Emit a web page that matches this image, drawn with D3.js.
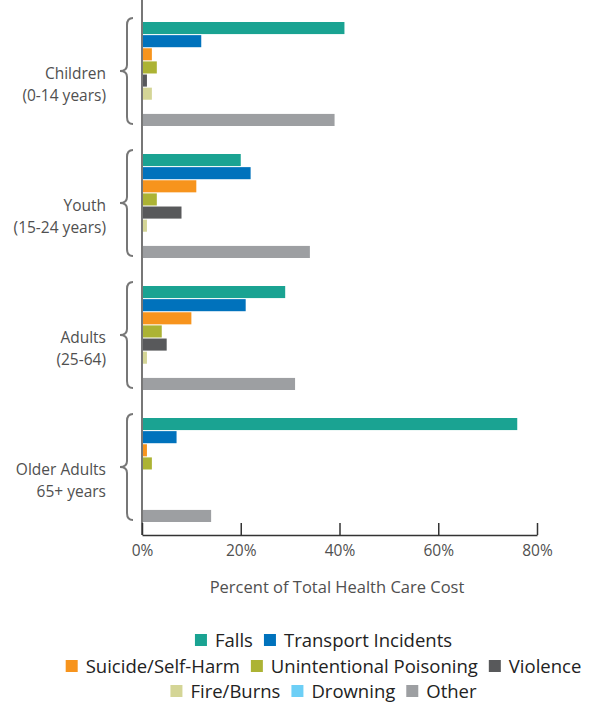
<!DOCTYPE html>
<html><head><meta charset="utf-8">
<script src="https://cdn.jsdelivr.net/npm/d3@7"></script>
<style>body{margin:0;background:#fff}svg{display:block}text{font-family:"Open Sans",sans-serif}</style>
</head><body><svg id="c" width="603" height="704"></svg>
<script>
const groups = ["Children|(0-14 years)", "Youth|(15-24 years)", "Adults|(25-64)", "Older Adults|65+ years"];
const series = ["Falls","Transport Incidents","Suicide/Self-Harm","Unintentional Poisoning","Violence","Fire/Burns","Drowning","Other"];
const colors = ["#1aa392","#0072bc","#f7941d","#acb334","#58595b","#d4d596","#6dcff6","#9d9fa2"];
const falls     = [41, 20, 29, 76];
const transport = [12, 22, 21, 7];
const suicide   = [2, 11, 10, 1];
const poisoning = [3, 3, 4, 2];
const violence  = [1, 8, 5, 0];
const fire      = [2, 1, 1, 0];
const drowning  = [0, 0, 0, 0];
const other     = [39, 34, 31, 14];
const ticks = [0, 20, 40, 60, 80];
const legendRows = [[0,1],[2,3,4],[5,6,7]];

const values = [falls, transport, suicide, poisoning, violence, fire, drowning, other];
const svg = d3.select("#c");
const x0 = 142, x1 = 537, yAxis = 535;
const x = d3.scaleLinear().domain([0, 80]).range([x0, x1]);
const gy = d3.scaleBand().domain(groups).range([8, 536]).padding(0);
const sy = d3.scaleBand().domain(series).range([14, 118]).paddingInner(0.08).paddingOuter(0);

groups.forEach((g, gi) => {
  const gg = svg.append("g").attr("transform", `translate(0,${gy(g)})`);
  gg.selectAll("rect").data(series).join("rect")
    .attr("x", x(0)).attr("y", s => sy(s))
    .attr("width", (s, si) => x(values[si][gi]) - x(0))
    .attr("height", sy.bandwidth())
    .attr("fill", (s, si) => colors[si]);
  const [l1, l2] = g.split("|");
  const t = gg.append("text").attr("text-anchor", "end").attr("fill", "#505050").attr("font-size", 15.5);
  t.append("tspan").attr("x", 106).attr("y", 66 + 5).text(l1);
  t.append("tspan").attr("x", 106).attr("y", 66 + 27).text(l2);
  const top = 10, bot = 116, mid = 63, bx = 133, px = 120, cx = 127;
  gg.append("path")
    .attr("d", `M${bx},${top} Q${cx},${top} ${cx},${top+7} L${cx},${mid-6} Q${cx},${mid} ${px},${mid} Q${cx},${mid} ${cx},${mid+6} L${cx},${bot-7} Q${cx},${bot} ${bx},${bot}`)
    .attr("fill", "none").attr("stroke", "#777").attr("stroke-width", 2);
});

svg.append("line").attr("x1", x0).attr("x2", x0).attr("y1", 0).attr("y2", yAxis)
  .attr("stroke", "#777").attr("stroke-width", 2);

const ax = svg.append("g").attr("transform", `translate(0,${yAxis})`)
  .call(d3.axisBottom(x).tickValues(ticks).tickFormat(d => d + "%").tickSizeInner(-12).tickSizeOuter(0).tickPadding(10));
ax.select(".domain").attr("stroke", "#333").attr("stroke-width", 1.5);
ax.selectAll(".tick line").attr("stroke", "#333").attr("stroke-width", 1.5);
ax.selectAll(".tick text").attr("font-size", 15.5).attr("fill", "#505050").attr("font-family", "Open Sans").attr("y", 10).attr("dy", "0.71em");

svg.append("text").attr("x", 337).attr("y", 593).attr("text-anchor", "middle")
  .attr("font-size", 16.5).attr("fill", "#505050").text("Percent of Total Health Care Cost");

const rowY = [640, 666, 691];
legendRows.forEach((row, ri) => {
  const lg = svg.append("g");
  let cur = 0;
  row.forEach(si => {
    lg.append("rect").attr("x", cur).attr("y", rowY[ri] - 6).attr("width", 12).attr("height", 12).attr("fill", colors[si]);
    const t = lg.append("text").attr("x", cur + 20).attr("y", rowY[ri] + 7).attr("font-size", 18.5).attr("fill", "#222").text(series[si]);
    cur += 20 + t.node().getComputedTextLength() + 11;
  });
  const w = cur - 11;
  lg.attr("transform", `translate(${(603 - w) / 2 + 22},0)`);
});
</script></body></html>
